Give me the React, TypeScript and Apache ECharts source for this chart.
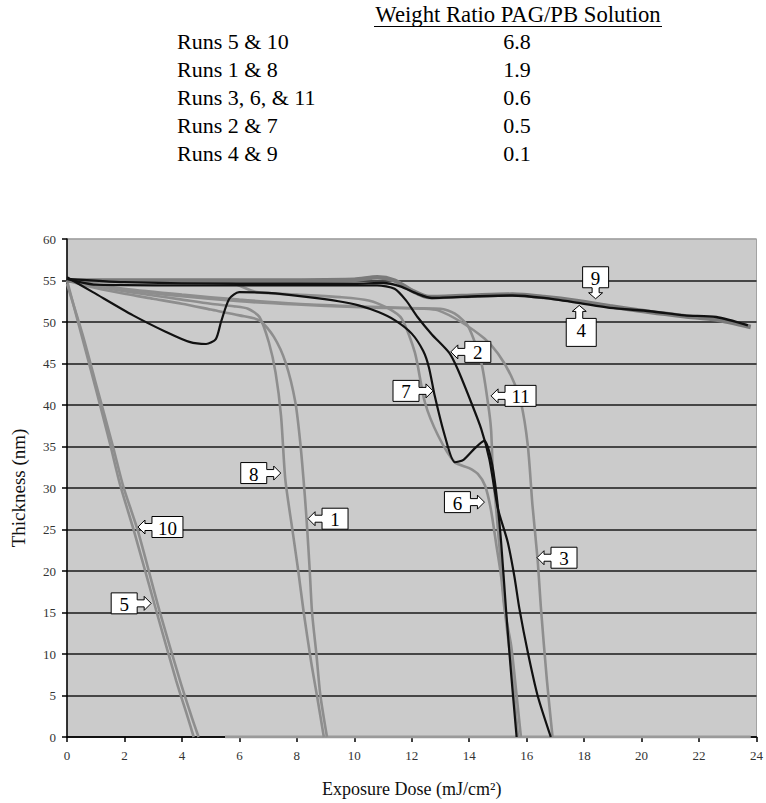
import React, { useEffect, useRef } from 'react';
import * as echarts from 'echarts';

// ---- table text ----
const tableHeader = 'Weight Ratio PAG/PB Solution';
const runGroups = ['Runs 5 & 10', 'Runs 1 & 8', 'Runs 3, 6, & 11', 'Runs 2 & 7', 'Runs 4 & 9'];
const ratioValues = ['6.8', '1.9', '0.6', '0.5', '0.1'];

// ---- axis text ----
const xAxisTitle = 'Exposure Dose (mJ/cm\u00B2)';
const yAxisTitle = 'Thickness (nm)';

// ---- curves: [exposure dose, thickness] ----
const run5 = [[0, 55], [0.5, 48.5], [1.0, 42], [1.5, 35.3], [1.84, 30.5], [2.35, 24.6], [3.1, 15.3], [3.8, 6.8], [4.2, 2.4], [4.41, 0]];
const run10 = [[0, 54.6], [0.55, 48.4], [1.05, 42], [1.6, 35], [1.95, 30.3], [2.47, 24.8], [3.22, 15.2], [3.95, 6.6], [4.35, 2.3], [4.58, 0]];
const run8 = [[0, 55], [1, 54.3], [2, 53.7], [3, 53.2], [4, 52.7], [5, 52.2], [5.8, 51.9], [6.3, 51.6], [6.7, 50.6], [7.03, 47.5], [7.26, 43.9], [7.45, 38.7], [7.6, 31], [7.84, 25.1], [8.05, 20], [8.24, 15], [8.5, 9], [8.7, 5], [8.94, 0]];
const run1 = [[0, 55], [1, 54.1], [2, 53.4], [3, 52.8], [4, 52.2], [5, 51.5], [6, 50.8], [6.7, 50.2], [7.2, 48.2], [7.61, 45.1], [7.95, 40.3], [8.13, 35.1], [8.28, 29], [8.36, 25.1], [8.45, 20], [8.53, 15], [8.68, 10], [8.82, 5], [9.05, 0]];
const run6 = [[0, 55], [3, 54.9], [5, 54.8], [5.8, 54.6], [6.6, 53.6], [8, 53.3], [9.5, 53], [10.5, 52.6], [11.2, 51.6], [11.65, 50.4], [12.11, 46.3], [12.46, 40.3], [12.92, 36.3], [13.5, 33.1], [14.0, 32.4], [14.3, 31.7], [14.55, 30.3], [14.75, 27.5], [14.95, 23], [15.11, 19.4], [15.23, 15.4], [15.46, 11], [15.65, 5], [15.8, 0]];
const run11 = [[0, 55], [2, 53.9], [4, 53.1], [6, 52.5], [8, 52.1], [10, 51.8], [11, 51.7], [13.0, 51.6], [13.5, 51.0], [13.96, 49.5], [14.42, 45.1], [14.65, 40.3], [14.76, 37.1], [14.82, 32.3], [14.95, 27], [15.1, 21], [15.25, 15], [15.45, 9], [15.7, 0]];
const run3 = [[0, 55], [2, 54], [4, 53.3], [6, 52.7], [8, 52.2], [10, 51.9], [12.4, 51.6], [12.92, 51.4], [13.72, 50], [14.53, 48], [15.0, 46.2], [15.46, 43.5], [15.8, 40.3], [16.04, 35.1], [16.2, 28], [16.38, 21.4], [16.5, 15.4], [16.7, 7], [16.9, 0]];
const run9 = [[0, 55], [2, 55], [6, 55], [10, 55.1], [10.8, 55.4], [11.4, 55.0], [12.0, 53.8], [12.6, 53.0], [14.3, 53.2], [15.5, 53.3], [16.6, 53.0], [17.8, 52.5], [18.9, 51.9], [20.3, 51.2], [21.5, 50.7], [22.6, 50.3], [23.8, 49.4]];
const run4 = [[0, 55.2], [2, 54.8], [6, 54.6], [10, 54.6], [11, 54.7], [11.6, 54.3], [12.2, 53.4], [12.7, 52.9], [14.3, 53.1], [15.5, 53.2], [16.6, 52.9], [17.8, 52.3], [18.9, 51.7], [20.3, 51.3], [21.5, 50.8], [22.6, 50.6], [23.7, 49.6]];
const run2 = [[0, 55.2], [1, 54.5], [5, 54.4], [10.8, 54.4], [11.4, 54.0], [11.8, 52.6], [12.2, 50.6], [12.7, 48.5], [13.3, 46.3], [13.6, 44.3], [14.07, 40.3], [14.42, 37.1], [14.7, 33.5], [15.0, 27.5], [15.34, 23.5], [15.57, 19.4], [15.75, 15.4], [16.04, 10.2], [16.38, 5], [16.84, 0]];
const run7 = [[0, 55.4], [0.9, 53.6], [2.3, 50.8], [3.45, 48.8], [4.26, 47.6], [4.84, 47.35], [5.18, 47.95], [5.36, 50], [5.65, 52.8], [5.99, 53.6], [7.0, 53.5], [8.4, 53.0], [9.45, 52.5], [10.15, 52.0], [10.84, 51.2], [11.42, 50.2], [12.0, 48.6], [12.4, 46.5], [12.6, 44.5], [12.8, 41.1], [13.15, 36.3], [13.5, 33.1], [13.8, 33.4], [14.2, 34.8], [14.53, 35.7], [14.76, 33.5], [14.94, 29.5], [15.11, 23.5], [15.28, 15.4], [15.45, 8], [15.65, 0]];
const clearedBaseline = [[5.5, 0], [23.8, 0]];

// callout annotations: label, tip point in data units, arrow direction
const callouts = [
  { label: '10', x: 2.47, y: 25.3, dir: 'left' },
  { label: '5', x: 2.93, y: 16.1, dir: 'right' },
  { label: '8', x: 7.44, y: 31.8, dir: 'right' },
  { label: '1', x: 8.39, y: 26.3, dir: 'left' },
  { label: '7', x: 12.74, y: 41.7, dir: 'right' },
  { label: '2', x: 13.36, y: 46.4, dir: 'left' },
  { label: '11', x: 14.76, y: 41.1, dir: 'left' },
  { label: '6', x: 14.53, y: 28.3, dir: 'right' },
  { label: '3', x: 16.36, y: 21.6, dir: 'left' },
  { label: '9', x: 18.4, y: 52.8, dir: 'down' },
  { label: '4', x: 17.83, y: 52.0, dir: 'up' },
];

const SERIF = 'Liberation Serif';
const GRAY = '#8e8e8e';
const BLACK = '#111111';

function serifText(text: string, x: number, y: number, size: number, align: string, z = 101) {
  return {
    type: 'text', z, x, y,
    style: { text, fill: '#000', font: size + 'px Liberation Serif', fontSize: size, fontFamily: SERIF, align, verticalAlign: 'middle' },
  };
}

function calloutGraphics(chart: any) {
  const out: any[] = [];
  callouts.forEach((c) => {
    const p = chart.convertToPixel({ gridIndex: 0 }, [c.x, c.y]);
    const tx = p[0], ty = p[1];
    const W = c.label.length > 1 ? 31 : 26;
    const H = c.dir === 'up' ? 28 : 21;
    const L = 14, s = 3.5, h = 7, hl = 7;
    let pts: number[][] = [];
    let cx = 0, cy = 0;
    if (c.dir === 'right') {
      const bx2 = tx - L, bx1 = bx2 - W, t = ty - H / 2, b = ty + H / 2;
      pts = [[bx1, t], [bx2, t], [bx2, ty - s], [tx - hl, ty - s], [tx - hl, ty - h], [tx, ty], [tx - hl, ty + h], [tx - hl, ty + s], [bx2, ty + s], [bx2, b], [bx1, b]];
      cx = (bx1 + bx2) / 2; cy = ty;
    } else if (c.dir === 'left') {
      const bx1 = tx + L, bx2 = bx1 + W, t = ty - H / 2, b = ty + H / 2;
      pts = [[bx2, t], [bx1, t], [bx1, ty - s], [tx + hl, ty - s], [tx + hl, ty - h], [tx, ty], [tx + hl, ty + h], [tx + hl, ty + s], [bx1, ty + s], [bx1, b], [bx2, b]];
      cx = (bx1 + bx2) / 2; cy = ty;
    } else if (c.dir === 'down') {
      const by2 = ty - 11, by1 = by2 - H, l = tx - W / 2, r = tx + W / 2;
      const hl2 = 6;
      pts = [[l, by1], [r, by1], [r, by2], [tx + s, by2], [tx + s, ty - hl2], [tx + h, ty - hl2], [tx, ty], [tx - h, ty - hl2], [tx - s, ty - hl2], [tx - s, by2], [l, by2]];
      cx = tx; cy = (by1 + by2) / 2;
    } else {
      const by1 = ty + 13, by2 = by1 + H, l = tx - 13, r = l + 30;
      const hl2 = 6;
      pts = [[l, by2], [r, by2], [r, by1], [tx + s, by1], [tx + s, ty + hl2], [tx + h, ty + hl2], [tx, ty], [tx - h, ty + hl2], [tx - s, ty + hl2], [tx - s, by1], [l, by1]];
      cx = l + 15; cy = by1 + 11;
    }
    out.push({
      type: 'polygon', z: 100, shape: { points: pts },
      style: { fill: '#ffffff', stroke: '#000000', lineWidth: 1 },
    });
    out.push(serifText(c.label, cx, cy + 1, 19, 'center'));
  });
  return out;
}

function tableGraphics() {
  const out: any[] = [];
  out.push(serifText(tableHeader, 518, 14, 22.7, 'center', 10));
  out.push({ type: 'line', shape: { x1: 374, y1: 26.5, x2: 662, y2: 26.5 }, style: { stroke: '#000', lineWidth: 1.2 } });
  runGroups.forEach((g, i) => {
    const y = 41.5 + i * 28.1;
    out.push(serifText(g, 177, y, 22, 'left', 10));
    out.push(serifText(ratioValues[i], 517, y, 22, 'center', 10));
  });
  return out;
}

export default function App() {
  const ref = useRef<HTMLDivElement>(null);
  useEffect(() => {
    if (!ref.current) return;
    const chart = echarts.init(ref.current, undefined, { renderer: 'svg' });
    const curve = (name: string, data: number[][], width = 2.6, color = GRAY, z = 2) => ({
      name, type: 'line', data, smooth: 0.25, showSymbol: false, symbol: 'none', z,
      lineStyle: { color, width }, silent: true,
    });
    const splitColors = Array.from({ length: 13 }, (_, i) => (i === 12 ? '#a3a3a3' : '#1a1a1a'));
    chart.setOption({
      animation: false,
      backgroundColor: '#ffffff',
      textStyle: { fontFamily: SERIF },
      grid: { left: 67, top: 239, right: 6, bottom: 65, show: true, backgroundColor: '#cbcbcb', borderColor: '#a3a3a3', borderWidth: 1 },
      xAxis: {
        type: 'value', min: 0, max: 24, interval: 2,
        name: xAxisTitle, nameLocation: 'middle', nameGap: 43,
        nameTextStyle: { fontFamily: SERIF, fontSize: 18, color: '#111' },
        axisLine: { show: true, lineStyle: { color: '#000', width: 1.5 } },
        axisTick: { show: true, inside: false, length: 5, lineStyle: { color: '#000', width: 1.5 } },
        axisLabel: { fontFamily: SERIF, fontSize: 13, color: '#333', margin: 12 },
        splitLine: { show: false },
      },
      yAxis: {
        type: 'value', min: 0, max: 60, interval: 5,
        name: yAxisTitle, nameLocation: 'middle', nameGap: 39,
        nameTextStyle: { fontFamily: SERIF, fontSize: 19, color: '#111' },
        axisLine: { show: true, lineStyle: { color: '#000', width: 1.5 } },
        axisTick: { show: true, inside: false, length: 5, lineStyle: { color: '#000', width: 1.5 } },
        axisLabel: { fontFamily: SERIF, fontSize: 13, color: '#333', margin: 11 },
        splitLine: { show: true, lineStyle: { color: splitColors, width: 1.6 } },
      },
      series: [
        curve('Baseline', clearedBaseline, 3, '#9a9a9a'),
        curve('Run 5', run5),
        curve('Run 10', run10),
        curve('Run 8', run8),
        curve('Run 1', run1),
        curve('Run 3', run3),
        curve('Run 11', run11),
        curve('Run 6', run6),
        curve('Run 9', run9, 4.5, '#7a7a7a'),
        curve('Run 2', run2, 2.2, BLACK, 3),
        curve('Run 7', run7, 2.2, BLACK, 3),
        curve('Run 4', run4, 2.4, BLACK, 3),
      ],
    });
    chart.setOption({ graphic: [...tableGraphics(), ...calloutGraphics(chart)] });
    return () => chart.dispose();
  }, []);
  return <div ref={ref} style={{ position: 'absolute', left: 0, top: 0, width: 766, height: 803 }} />;
}
